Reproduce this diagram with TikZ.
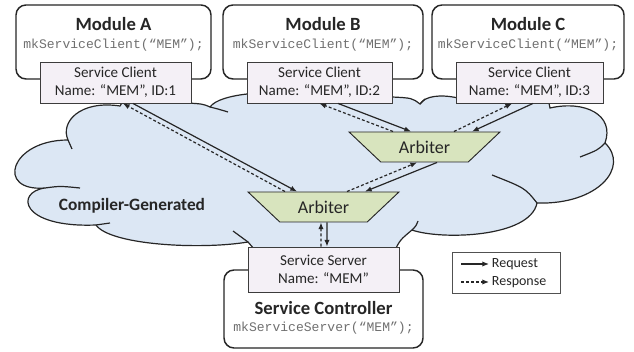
\documentclass[tikz,border=0pt]{standalone}
\usepackage{fontspec}
\setmainfont{Carlito}
\setmonofont{Liberation Mono}
\usetikzlibrary{arrows.meta,positioning,shapes.geometric}

\definecolor{cloudblue}{HTML}{DCE7F4}
\definecolor{clientpink}{HTML}{F4F0F6}
\definecolor{arbgreen}{HTML}{D8E4BE}
\definecolor{codegray}{HTML}{707070}
\definecolor{inkgray}{HTML}{262626}

\tikzset{
  module/.style={draw=inkgray, line width=1.1pt, rounded corners=7.5pt, fill=white, minimum height=55.5pt},
  modtitle/.style={inner sep=0pt, text=inkgray, font=\fontsize{14}{16}\selectfont\bfseries},
  modcode/.style={inner sep=0pt, text=codegray, font=\fontsize{9.8}{12}\selectfont\ttfamily},
  client/.style={draw=inkgray!90, line width=0.7pt, fill=clientpink, minimum height=30.75pt, align=center, text=inkgray, font=\fontsize{11.3}{13.5}\selectfont},
  arbiter/.style={trapezium, trapezium angle=38, shape border rotate=180, trapezium stretches=true, draw=inkgray, line width=0.7pt, fill=arbgreen, minimum width=113.25pt, minimum height=22.5pt, inner sep=1pt, text=inkgray, font=\fontsize{13.5}{15}\selectfont},
  cloudline/.style={draw=inkgray, line width=0.9pt},
  req/.style={-{Latex[length=5pt,width=4pt]}, line width=0.9pt, draw=inkgray},
  rsp/.style={req, dash pattern=on 2.2pt off 1.6pt},
  legtext/.style={inner sep=2pt, text=inkgray, font=\fontsize{10.5}{12}\selectfont}
}

\begin{document}
\begin{tikzpicture}[x=0.75pt,y=-0.75pt]
			%%%%% START %%%%%
			\useasboundingbox (0,0) rectangle (634,352);
			
			\node[module, minimum width=146.25pt] (modA) at (113.5,42) {};
			\node[modtitle] (titA) at ([yshift=-15pt]modA.north) {Module A};
			\node[modcode] (codeA) at ([yshift=-30.75pt]modA.north) {mkServiceClient(“MEM”);};
			
			\node[module, minimum width=150pt] (modB) at (323,42) {};
			\node[modtitle] (titB) at ([yshift=-15pt]modB.north) {Module B};
			\node[modcode] (codeB) at ([yshift=-30.75pt]modB.north) {mkServiceClient(“MEM”);};
			
			\node[module, minimum width=144pt] (modC) at (528,42) {};
			\node[modtitle] (titC) at ([yshift=-15pt]modC.north) {Module C};
			\node[modcode] (codeC) at ([yshift=-30.75pt]modC.north) {mkServiceClient(“MEM”);};
			
			\node[module, minimum width=149.25pt, minimum height=58.5pt] (ctrl) at (323.5,309) {};
			\node[modtitle] (titS) at ([yshift=-29.25pt]ctrl.north) {Service Controller};
			\node[modcode] (codeS) at ([yshift=-44.25pt]ctrl.north) {mkServiceServer(“MEM”);};
			
			% cloud
			\draw[cloudline, fill=cloudblue] (120,106)
				.. controls (80,100) and (60,122) .. (68,140)
				.. controls (10,140) and (-5,192) .. (45,188)
				.. controls (15,192) and (20,228) .. (96,225)
				.. controls (110,245) and (200,250) .. (248,242)
				-- (255,250) -- (394,252)
				.. controls (400,240) .. (412,230)
				.. controls (440,240) and (530,238) .. (537,203)
				.. controls (598,205) and (630,167) .. (605,143)
				.. controls (615,115) and (585,100) .. (550,108)
				-- (548,98) -- (458,98)
				.. controls (440,94) and (425,96) .. (420,104)
				.. controls (412,98) .. (392,97)
				-- (250,97) -- (247,94)
				.. controls (230,96) and (215,100) .. (210,107)
				.. controls (203,104) .. (188,103)
				-- (186,98) -- (125,98) -- cycle;
			\draw[cloudline] (68,140) .. controls (70,144) .. (72,149);
			\draw[cloudline] (45,188) .. controls (60,186) .. (80,188);
			\draw[cloudline] (96,225) .. controls (103,224) .. (110,223);
			\draw[cloudline] (233,231) .. controls (240,237) .. (248,242);
			\draw[cloudline] (412,230) .. controls (416,226) .. (418,221);
			\draw[cloudline] (537,203) .. controls (525,188) .. (492,175);
			\draw[cloudline] (605,143) .. controls (598,150) .. (580,157);
			\draw[cloudline] (420,104) -- (425,99);
			\draw[cloudline] (210,107) .. controls (218,109) .. (228,112);
			\node[inner sep=0pt, text=inkgray, font=\fontsize{13}{15}\selectfont\bfseries] (cgen) at (132,206) {Compiler-Generated};
			
			\node[client, minimum width=113.25pt] (clA) at (115.5,82.5) {Service Client\\Name: “MEM”, ID:1};
			\node[client, minimum width=108.75pt] (clB) at (319.5,82.5) {Service Client\\Name: “MEM”, ID:2};
			\node[client, minimum width=110.25pt] (clC) at (529.5,82.5) {Service Client\\Name: “MEM”, ID:3};
			\node[client, minimum width=113.25pt, minimum height=33.75pt] (srv) at (323.5,269.5) {Service Server\\Name: “MEM”};
			
			\node[arbiter] (arbU) at (424.5,147) {Arbiter};
			\node[arbiter] (arbL) at (323.5,207) {Arbiter};
			
			\draw[req] ([xshift=13.1pt]clA.south) -- ([xshift=-19.9pt]arbL.north);
			\draw[rsp] ([xshift=-28.9pt]arbL.north) -- ([xshift=5.6pt]clA.south);
			\draw[req] ([xshift=13.9pt]clB.south) -- ([xshift=-10.1pt]arbU.north);
			\draw[rsp] ([xshift=-23.6pt]arbU.north) -- ([xshift=0pt]clB.south);
			\draw[req] ([xshift=2.6pt]clC.south) -- ([xshift=35.6pt]arbU.north);
			\draw[rsp] ([xshift=22.1pt]arbU.north) -- ([xshift=-13.1pt]clC.south);
			\draw[req] ([xshift=9.4pt]arbU.south) -- ([xshift=31.1pt]arbL.north);
			\draw[rsp] ([xshift=17.6pt]arbL.north) -- ([xshift=-5.6pt]arbU.south);
			\draw[req] ([xshift=2.6pt]arbL.south) -- ([xshift=2.6pt]srv.north);
			\draw[rsp] ([xshift=-1.9pt]srv.north) -- ([xshift=-1.9pt]arbL.south);
			
			% legend
			\node[draw=inkgray!80, line width=0.7pt, minimum width=81pt, minimum height=30.75pt] (leg) at (506,272.5) {};
			\coordinate (lq) at (461,264);
			\coordinate (lr) at (461,282);
			\node[legtext, anchor=west] (lqt) at (489,264) {Request};
			\node[legtext, anchor=west] (lrt) at (489,282) {Response};
			\draw[req] (lq) -- (lqt.west);
			\draw[rsp] (lr) -- (lrt.west);
			%%%%% END %%%%%
\end{tikzpicture}
\end{document}
